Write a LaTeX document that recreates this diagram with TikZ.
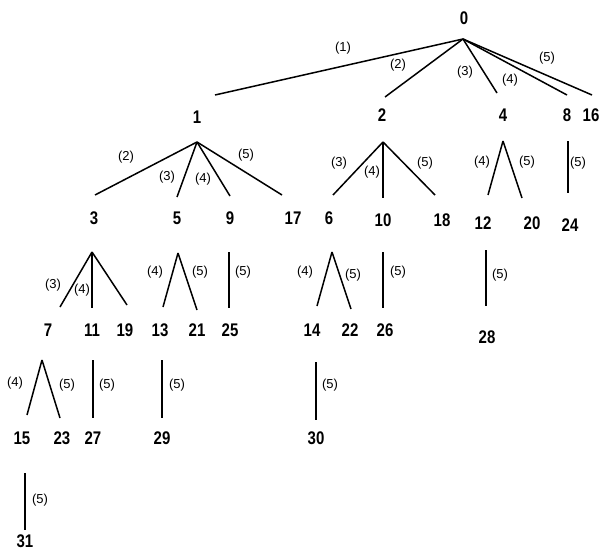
\documentclass[tikz,border=0pt]{standalone}
\usepackage{graphicx}
\usepackage{fontspec}
\setmainfont{Liberation Sans}
\newcommand{\tallnum}[1]{\scalebox{1}[1.22]{#1}}
\begin{document}
\begin{tikzpicture}[x=1pt,y=-1pt,
  num/.style={inner sep=0pt,font=\fontsize{15}{15}\selectfont\bfseries},
  lab/.style={inner sep=0pt,font=\fontsize{13}{13}\selectfont},
  edge/.style={line width=1.5pt}]
\useasboundingbox (0,0) rectangle (615,551);
% number nodes
\foreach \n/\x/\y in {0/464/18,1/197/117,2/382/115,4/503/115,8/567/115,16/591/115,
  3/94/218,5/177/218,9/230/218,17/293/218,6/329/218,10/383/220,18/442/220,12/483/223,20/532/223,24/570/225,
  7/48/330,11/92/330,19/125/330,13/160/330,21/197/330,25/230/330,14/312/330,22/350/330,26/385/330,28/487/337,
  15/22/438,23/62/438,27/93/438,29/162/438,30/316/438,31/25/541}
  \node[num] (n\n) at (\x,\y) {\tallnum{\n}};
% apex coordinates of parents
\coordinate (p0) at (463,39);
\coordinate (p1) at (197,142);
\coordinate (p2) at (383,142);
\coordinate (p4) at (503,141);
\coordinate (p8) at (568,141);
\coordinate (p3) at (92,252);
\coordinate (p5) at (178,253);
\coordinate (p9) at (229,252);
\coordinate (p6) at (332,252);
\coordinate (p10) at (383,252);
\coordinate (p12) at (486,250);
\coordinate (p7) at (42,360);
\coordinate (p11) at (93,360);
\coordinate (p13) at (162,360);
\coordinate (p14) at (316,362);
\coordinate (p15) at (25,473);
% end coordinates above children
\coordinate (t1) at (215,95);
\coordinate (t2) at (385,97);
\coordinate (t4) at (497,93);
\coordinate (t8) at (567,95);
\coordinate (t16) at (592,95);
\coordinate (t3) at (95,195);
\coordinate (t5) at (177,197);
\coordinate (t9) at (230,196);
\coordinate (t17) at (282,195);
\coordinate (t6) at (333,195);
\coordinate (t10) at (383,198);
\coordinate (t18) at (435,195);
\coordinate (t12) at (488,195);
\coordinate (t20) at (522,198);
\coordinate (t24) at (568,193);
\coordinate (t7) at (60,307);
\coordinate (t11) at (92,308);
\coordinate (t19) at (127,305);
\coordinate (t13) at (163,307);
\coordinate (t21) at (197,310);
\coordinate (t25) at (229,308);
\coordinate (t14) at (317,306);
\coordinate (t22) at (351,309);
\coordinate (t26) at (383,308);
\coordinate (t28) at (486,306);
\coordinate (t15) at (27,415);
\coordinate (t23) at (60,418);
\coordinate (t27) at (93,418);
\coordinate (t29) at (162,418);
\coordinate (t30) at (316,420);
\coordinate (t31) at (25,530);
% edges
\foreach \a/\b in {0/1,0/2,0/4,0/8,0/16,1/3,1/5,1/9,1/17,2/6,2/10,2/18,4/12,4/20,8/24,
  3/7,3/11,3/19,5/13,5/21,9/25,6/14,6/22,10/26,12/28,7/15,7/23,11/27,13/29,14/30,15/31}
  \draw[edge] (p\a) -- (t\b);
% edge labels
\foreach \i/\t/\x/\y in {a/1/343/48,b/2/398/65,c/3/465/72,d/4/510/80,e/5/547/58,
  f/2/126/157,g/3/167/177,h/4/203/179,i/5/246/155,
  j/3/339/163,k/4/372/172,l/5/425/163,
  m/4/482/162,n/5/527/162,o/5/578/163,
  p/3/53/285,q/4/82/290,r/4/155/272,s/5/200/272,u/5/243/272,
  v/4/305/272,w/5/353/275,x/5/398/272,y/5/500/275,
  z/4/15/383,A/5/67/385,B/5/107/385,C/5/177/385,D/5/330/385,E/5/40/500}
  \node[lab] (l\i) at (\x,\y) {(\t)};
\end{tikzpicture}
\end{document}
